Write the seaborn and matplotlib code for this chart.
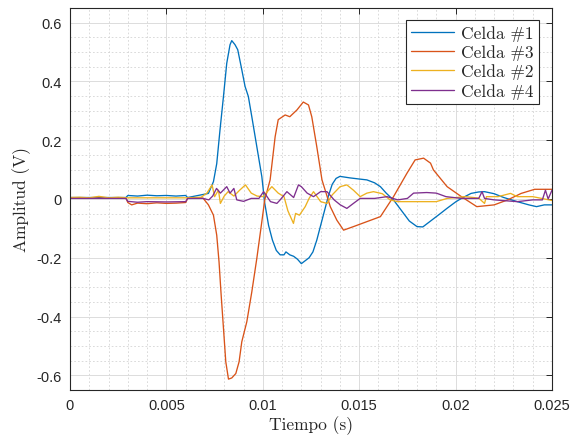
import numpy as np
import pandas as pd
import matplotlib
matplotlib.use("Agg")
import matplotlib.pyplot as plt
from matplotlib.ticker import MultipleLocator
import seaborn as sns

# ---- data ----
t1 = [0, 0.0029, 0.003, 0.0035, 0.004, 0.0045, 0.005, 0.0055, 0.006, 0.0061, 0.0068, 0.00718,
      0.00744, 0.00761, 0.00778, 0.00796, 0.00813, 0.0083, 0.00839, 0.00856, 0.0087, 0.00891,
      0.00908, 0.00925, 0.00943, 0.00969, 0.00995, 0.0101, 0.0103, 0.0105, 0.0107, 0.0109,
      0.0111, 0.0112, 0.0114, 0.0116, 0.0118, 0.0120, 0.0122, 0.0124, 0.0126, 0.0128, 0.0130,
      0.0132, 0.0134, 0.0136, 0.0138, 0.0140, 0.0142, 0.0145, 0.0150, 0.0154, 0.0158, 0.0161,
      0.0164, 0.0168, 0.0172, 0.0176, 0.0180, 0.0183, 0.0187, 0.0192, 0.01955, 0.0200, 0.0203,
      0.0208, 0.0212, 0.0215, 0.0220, 0.0225, 0.0232, 0.0238, 0.0242, 0.0246, 0.025]
v1 = [0.005, 0.005, 0.012, 0.010, 0.013, 0.011, 0.012, 0.010, 0.012, 0.005, 0.014, 0.019,
      0.059, 0.12, 0.235, 0.349, 0.462, 0.525, 0.539, 0.525, 0.508, 0.44,
      0.383, 0.349, 0.28, 0.178, 0.076, -0.014, -0.09, -0.14, -0.175, -0.19,
      -0.19, -0.18, -0.19, -0.195, -0.205, -0.22, -0.21, -0.20, -0.18, -0.14, -0.09,
      -0.04, 0.01, 0.05, 0.07, 0.077, 0.075, 0.072, 0.068, 0.065, 0.055, 0.042,
      0.02, -0.005, -0.04, -0.075, -0.094, -0.095, -0.075, -0.05, -0.032, -0.01, 0.002,
      0.019, 0.024, 0.025, 0.018, 0.005, -0.009, -0.02, -0.026, -0.02, -0.02]

t3 = [0, 0.0029, 0.003, 0.0032, 0.0035, 0.004, 0.0045, 0.005, 0.0055, 0.006, 0.0061, 0.0069,
      0.00718, 0.00744, 0.00761, 0.00773, 0.00784, 0.00796, 0.00808, 0.00822, 0.00839, 0.0086,
      0.00877, 0.00891, 0.00917, 0.00943, 0.00969, 0.00995, 0.0101, 0.01038, 0.01064, 0.0108,
      0.01116, 0.0114, 0.01177, 0.0121, 0.01237, 0.01254, 0.0128, 0.01307, 0.0135, 0.01384,
      0.01419, 0.0147, 0.0154, 0.0161, 0.0164, 0.01678, 0.01748, 0.0179, 0.01834, 0.0187,
      0.01885, 0.01956, 0.0203, 0.0211, 0.022, 0.0227, 0.0234, 0.0241, 0.025]
v3 = [0.003, 0.003, -0.012, -0.02, -0.014, -0.016, -0.013, -0.015, -0.014, -0.012, 0.002, 0.003,
      -0.02, -0.055, -0.123, -0.214, -0.327, -0.44, -0.554, -0.613, -0.609, -0.594,
      -0.554, -0.486, -0.418, -0.316, -0.202, -0.077, -0.003, 0.065, 0.212, 0.27,
      0.286, 0.28, 0.303, 0.33, 0.32, 0.28, 0.178, 0.065, -0.026, -0.072,
      -0.106, -0.094, -0.077, -0.06, -0.03, 0.008, 0.088, 0.133, 0.139, 0.122,
      0.099, 0.042, 0.008, -0.026, -0.02, -0.003, 0.019, 0.033, 0.033]

t2 = [0, 0.0005, 0.001, 0.0015, 0.002, 0.0025, 0.003, 0.006, 0.0068, 0.0071, 0.00737, 0.0075,
      0.0077, 0.0078, 0.0080, 0.0082, 0.0085, 0.0088, 0.0091, 0.0094, 0.0097, 0.0100, 0.01047,
      0.0108, 0.0111, 0.0113, 0.01159, 0.0117, 0.0119, 0.0122, 0.0124, 0.01263, 0.0130, 0.01333,
      0.0136, 0.01401, 0.01436, 0.0147, 0.01505, 0.0154, 0.01574, 0.0162, 0.0166, 0.0170,
      0.0180, 0.0190, 0.01956, 0.0205, 0.0212, 0.0215, 0.0216, 0.0222, 0.02285, 0.0232,
      0.0240, 0.0250]
v2 = [0.005, 0.006, 0.004, 0.009, 0.004, 0.006, 0.004, 0.004, 0.006, 0.02, 0.048, 0.008,
      0.03, -0.015, 0.01, 0.025, 0.01, 0.03, 0.048, 0.02, 0.01, 0.008, 0.042,
      0.02, 0.008, -0.04, -0.083, -0.049, -0.055, -0.026, 0.002, 0.025, -0.009, -0.015,
      0.014, 0.042, 0.048, 0.03, 0.008, 0.02, 0.025, 0.018, -0.003, -0.009,
      -0.009, -0.009, 0.002, 0.008, 0.003, -0.015, 0.008, 0.008, 0.019, 0.008,
      0.008, -0.005]

t4 = [0, 0.0029, 0.003, 0.0035, 0.004, 0.005, 0.006, 0.0061, 0.0069, 0.0072, 0.0074, 0.0076,
      0.0078, 0.00813, 0.0083, 0.0085, 0.00865, 0.0090, 0.0094, 0.0098, 0.01004, 0.0104,
      0.01073, 0.0109, 0.01125, 0.0116, 0.01185, 0.0120, 0.0123, 0.01263, 0.0130, 0.01333,
      0.0137, 0.01402, 0.01436, 0.0147, 0.01505, 0.0158, 0.01644, 0.0170, 0.0175, 0.01782,
      0.0185, 0.0190, 0.0195, 0.0203, 0.0212, 0.02137, 0.0215, 0.0220, 0.0232, 0.0240,
      0.0245, 0.02466, 0.0248, 0.0250]
v4 = [0.002, 0.002, -0.008, -0.011, -0.009, -0.01, -0.009, 0.002, 0.002, -0.003, 0.01, 0.036,
      0.02, 0.042, 0.02, 0.036, -0.003, -0.008, 0.002, 0.002, 0.025, -0.009,
      -0.015, -0.003, 0.025, 0.005, 0.048, 0.042, 0.02, 0.008, 0.025, 0.025,
      -0.003, -0.02, -0.032, -0.015, 0.002, 0.002, 0.008, -0.003, 0.002, 0.02,
      0.022, 0.02, 0.008, 0.002, 0.002, 0.025, 0.002, -0.003, -0.009, -0.003,
      -0.003, 0.03, 0.0, 0.03]

series_names = ["Celda #1", "Celda #3", "Celda #2", "Celda #4"]
series_colors = ["#0072BD", "#D95319", "#EDB120", "#7E2F8E"]
x_ticks = [0, 0.005, 0.01, 0.015, 0.02, 0.025]
x_tick_labels = ["0", "0.005", "0.01", "0.015", "0.02", "0.025"]
y_ticks = [-0.6, -0.4, -0.2, 0, 0.2, 0.4, 0.6]
y_tick_labels = ["-0.6", "-0.4", "-0.2", "0", "0.2", "0.4", "0.6"]

frames = []
for name, t, v in zip(series_names, [t1, t3, t2, t4], [v1, v3, v2, v4]):
    frames.append(pd.DataFrame({"t": t, "v": v, "serie": name}))
df = pd.concat(frames, ignore_index=True)

sns.set_style("white")
plt.rcParams["axes.formatter.use_mathtext"] = True

fig = plt.figure(figsize=(5.73, 4.39), dpi=100)
ax = fig.add_axes([70 / 573, 1 - 391 / 439, 482 / 573, 382 / 439])

sns.lineplot(data=df, x="t", y="v", hue="serie", hue_order=series_names,
             palette=dict(zip(series_names, series_colors)), estimator=None,
             sort=False, linewidth=0.95, ax=ax)

ax.set_xlim(0, 0.025)
ax.set_ylim(-0.65, 0.65)
ax.set_xticks(x_ticks)
ax.set_xticklabels(x_tick_labels)
ax.set_yticks(y_ticks)
ax.set_yticklabels(y_tick_labels)
ax.xaxis.set_minor_locator(MultipleLocator(0.001))
ax.yaxis.set_minor_locator(MultipleLocator(0.05))

ax.set_axisbelow(True)
ax.grid(which="major", color="#dcdcdc", linewidth=0.7, linestyle="-")
ax.grid(which="minor", color="#d4d4d4", linewidth=0.6, linestyle=(0, (2, 2.5)))

for s in ax.spines.values():
    s.set_color("#262626")
    s.set_linewidth(0.8)
    s.set_visible(True)
ax.tick_params(which="major", direction="in", length=4, width=0.7, color="#262626",
               top=True, right=True, labelsize=10.5, labelcolor="#262626", pad=6)
ax.tick_params(which="minor", length=0, top=True, right=True)
for lab in ax.get_xticklabels() + ax.get_yticklabels():
    lab.set_fontfamily(["Liberation Sans", "DejaVu Sans"])

lab_font = dict(family=["cmr10", "DejaVu Serif"], size=12.5, color="#262626")
ax.set_xlabel("Tiempo (s)", fontdict=lab_font, labelpad=2)
ax.set_ylabel("Amplitud (V)", fontdict=lab_font, labelpad=4)

leg = ax.legend(loc="upper right", bbox_to_anchor=(0.973, 0.969), borderaxespad=0,
                frameon=True, fancybox=False, edgecolor="#262626", framealpha=1,
                prop={"family": ["cmr10", "DejaVu Serif"], "size": 12.5},
                handlelength=2.5, labelspacing=0.2, borderpad=0.3, handletextpad=0.4)
leg.get_frame().set_linewidth(0.8)
leg.set_title(None)

fig.savefig("out.png", dpi=100)
